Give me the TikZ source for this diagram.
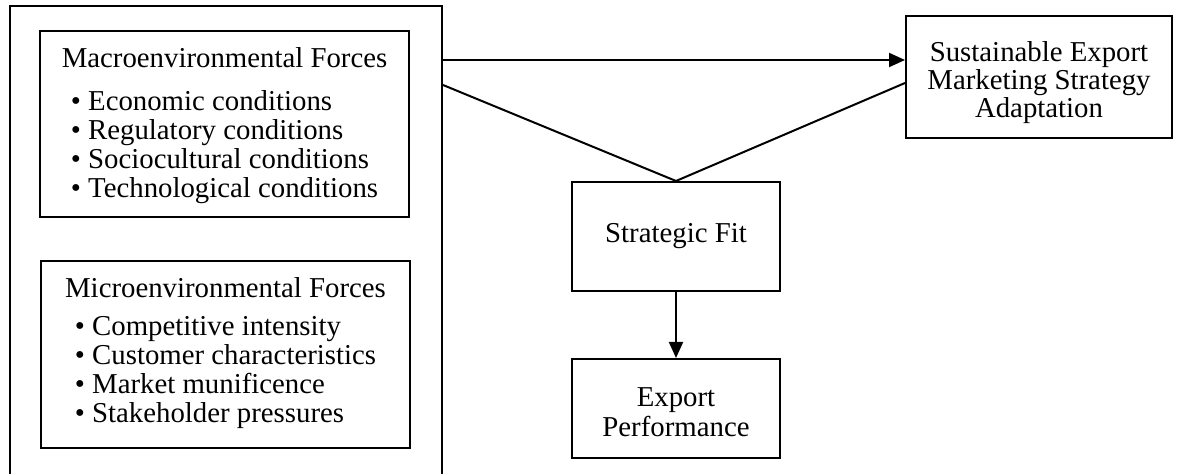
\documentclass[tikz,border=0pt]{standalone}
\usepackage{fontspec}
\setmainfont{Liberation Serif}
\usepackage{tikz}
\usetikzlibrary{arrows.meta, positioning}

\newcommand{\upstrut}[1]{\rule{0pt}{#1}}

\begin{document}
\begin{tikzpicture}[
    x=0.5pt, y=-0.5pt, line width=1pt,
    -{Triangle[length=8pt,width=7pt]},
    box/.style={rectangle, draw, -, line width=1pt, align=center, inner sep=0pt,
                font=\fontsize{14.4}{14.5}\selectfont},
    plain/.style={-}
]
    \useasboundingbox (0,0) rectangle (1182,474);

    % environment side
    \node[box, minimum width=216pt, minimum height=235pt] (env) at (226,241) {};
    \node[box, minimum width=184.5pt, minimum height=93pt] (macro) at (224.5,124)
        {\upstrut{13pt}Macroenvironmental Forces\\[10pt]
         \begin{tabular}{@{}l@{}}
         \textbullet\ Economic conditions\\
         \textbullet\ Regulatory conditions\\
         \textbullet\ Sociocultural conditions\\
         \textbullet\ Technological conditions
         \end{tabular}};
    \node[box, minimum width=184.5pt, minimum height=93.5pt] (micro) at (225.5,354.5)
        {Microenvironmental Forces\\[8pt]
         \begin{tabular}{@{}l@{}}
         \textbullet\ Competitive intensity\\
         \textbullet\ Customer characteristics\\
         \textbullet\ Market munificence\\
         \textbullet\ Stakeholder pressures
         \end{tabular}};

    % strategy side
    \node[box, minimum width=133pt, minimum height=61pt,
          font=\fontsize{14.4}{14}\selectfont] (adapt) at (1039,77)
        {\upstrut{16pt}Sustainable Export\\Marketing Strategy\\Adaptation};
    \node[box, minimum width=104pt, minimum height=54.5pt] (fit) at (676,236.5) {Strategic Fit};
    \node[box, minimum width=104pt, minimum height=49.5pt, below=33pt of fit,
          font=\fontsize{14.4}{15}\selectfont] (perf)
        {\upstrut{13pt}Export\\Performance};

    \coordinate (top) at (env.east |- 0,60);
    \coordinate (low) at (env.east |- 0,85);
    \coordinate (in) at (adapt.west |- 0,83);

    \draw (top) -- (top -| adapt.west);
    \draw[plain] (low) -- (fit.north) -- (in);
    \draw (fit) -- (perf);
\end{tikzpicture}
\end{document}
